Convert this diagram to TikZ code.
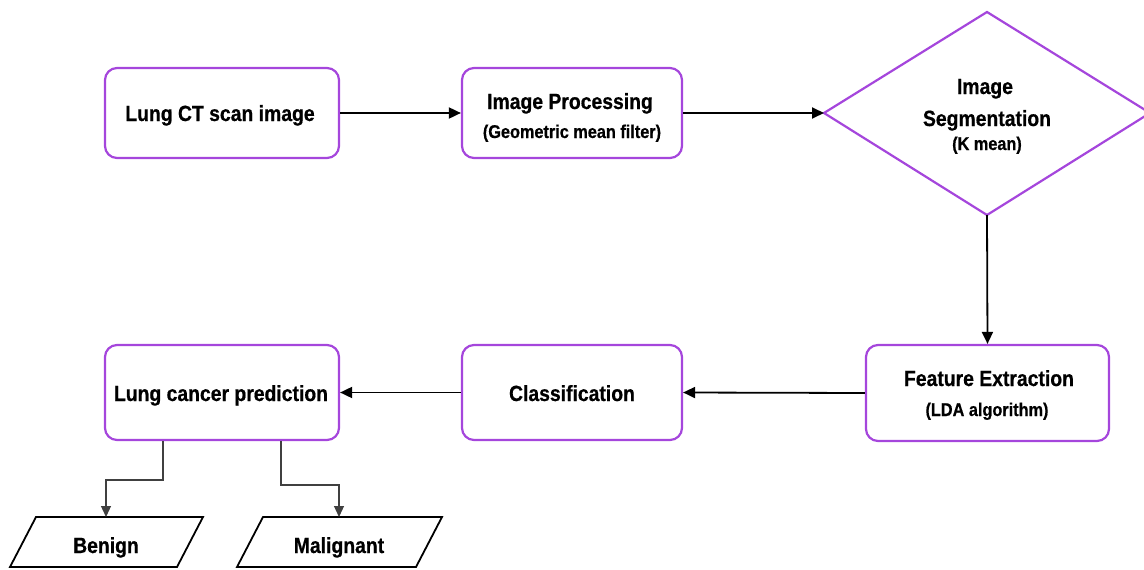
\documentclass[tikz,border=0pt]{standalone}
\usepackage{fontspec}
\setmainfont{Liberation Sans}[FakeStretch=0.88,BoldFeatures={FakeBold=0.6}]
\usetikzlibrary{arrows.meta,shapes.geometric}
\definecolor{pur}{RGB}{165,70,220}
\begin{document}
\begin{tikzpicture}[x=1pt,y=-1pt,
  box/.style={draw=pur,line width=2.2pt,rounded corners=12pt,fill=white,inner sep=0pt},
  big/.style={font=\bfseries\fontsize{22}{24}\selectfont,inner sep=0pt,anchor=base},
  sub/.style={font=\bfseries\fontsize{18.5}{20}\selectfont,inner sep=0pt,anchor=base},
  arr/.style={-{Triangle[length=12pt,width=11pt]},line width=1.8pt,black},
  thin/.style={-{Triangle[length=11pt,width=10pt]},line width=1.2pt,black!75},
  para/.style={draw=black,line width=1.8pt,fill=white}]
\useasboundingbox (0,0) rectangle (1144,570);
\node[box,minimum width=234pt,minimum height=90pt] (ct) at (222,113) {};
\node[big] (ctt) at (220,121) {Lung CT scan image};
\node[box,minimum width=220pt,minimum height=90pt] (ip) at (572,113) {};
\node[big] (ipt) at (570,109) {Image Processing};
\node[sub] (ips) at (572,138) {(Geometric mean filter)};
\coordinate (dl) at (824,113);
\coordinate (dt) at (987,12);
\coordinate (dr) at (1150,113);
\coordinate (db) at (987,215);
\draw[draw=pur,line width=2.2pt,fill=white] (dl) -- (dt) -- (dr) -- (db) -- cycle;
\node[big] (s1) at (985,94) {Image};
\node[big] (s2) at (987,126) {Segmentation};
\node[sub] (s3) at (987,150) {(K mean)};
\node[box,minimum width=243pt,minimum height=96pt] (fe) at (987.5,393) {};
\node[big] (fet) at (989,386) {Feature Extraction};
\node[sub] (fes) at (987,416) {(LDA algorithm)};
\node[box,minimum width=220pt,minimum height=95pt] (cl) at (572,392.5) {};
\node[big] (clt) at (572,401) {Classification};
\node[box,minimum width=234pt,minimum height=95pt] (lp) at (222,392.5) {};
\node[big] (lpt) at (221,401) {Lung cancer prediction};
\draw[arr] (ct.east) -- (ip.west);
\draw[arr] (ip.east) -- (dl);
\draw[arr] (db) -- (fe.north);
\draw[arr] (fe.west) -- (cl.east);
\draw[arr] (cl.west) -- (lp.east);
\draw[para] (36,517) -- (203,517) -- (177,567) -- (10,567) -- cycle;
\node[big] (be) at (106,553) {Benign};
\draw[para] (263,517) -- (442,517) -- (416,567) -- (237,567) -- cycle;
\node[big] (ma) at (339,553) {Malignant};
\coordinate (bt) at (106,517);
\coordinate (mt) at (339,517);
\draw[thin] (lp.south -| 163,0) |- (106,480) -- (bt);
\draw[thin] (lp.south -| 281,0) |- (339,485) -- (mt);
\end{tikzpicture}
\end{document}
